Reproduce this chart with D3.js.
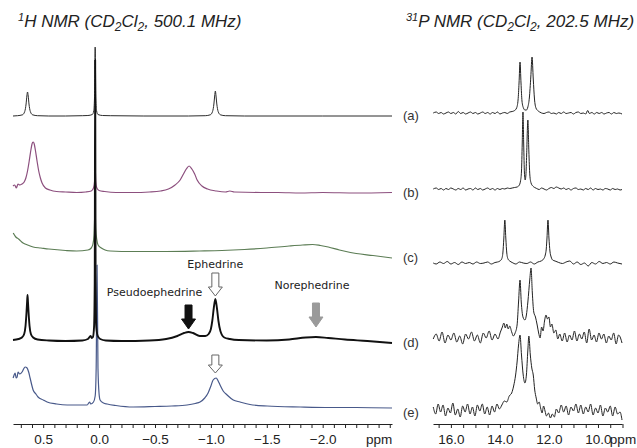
<!DOCTYPE html>
<html>
<head>
<meta charset="utf-8">
<script src="https://cdn.jsdelivr.net/npm/d3@7"></script>
<style>
    html, body { margin: 0; padding: 0; background: #fff; }
    svg { display: block; }
</style>
</head>
<body>
<div id="chart-nmr"></div>
<script>
// ---- data: [ppm, intensity] (intensity in arbitrary units above each trace's baseline)
var traceLabels = ["(a)", "(b)", "(c)", "(d)", "(e)"];
var hTickLabels = [0.5, 0.0, -0.5, -1.0, -1.5, -2.0];
var pTickLabels = [16.0, 14.0, 12.0, 10.0];

var h1_a = [[0.77,0],[0.73,0.3],[0.685,1.2],[0.665,4.5],[0.653,12],[0.646,20],[0.64,24],[0.634,20],[0.627,12],[0.615,4.5],[0.595,1.2],[0.55,0.3],[0.45,0],[0.3,0],[0.15,0.3],[0.1,0.5],[0.06,1.5],[0.048,5],[0.041,18],[0.035,69],[0.029,18],[0.022,5],[0.01,1.5],[-0.03,0.5],[-0.1,0.3],[-0.4,0],[-0.8,0],[-0.95,0.3],[-0.995,1.2],[-1.015,4.5],[-1.027,12],[-1.034,20],[-1.04,25],[-1.046,20],[-1.053,12],[-1.065,4.5],[-1.085,1.2],[-1.13,0.3],[-1.3,0],[-2.0,0],[-2.62,0]];

var h1_b = [[0.77,7],[0.755,8],[0.74,5],[0.725,9],[0.71,8],[0.69,9],[0.67,11],[0.655,15],[0.64,22],[0.625,32],[0.61,43],[0.6,49],[0.59,51],[0.58,49],[0.57,43],[0.555,32],[0.54,22],[0.525,15],[0.51,10],[0.48,5],[0.44,3],[0.38,1.5],[0.3,1],[0.2,0.5],[0.12,1],[0.07,2],[0.05,5],[0.04,12],[0.035,26],[0.03,12],[0.02,5],[0.0,2.5],[-0.05,1.5],[-0.15,0.5],[-0.3,0.5],[-0.45,1],[-0.55,2],[-0.62,4],[-0.68,8],[-0.725,13],[-0.755,19],[-0.78,24],[-0.805,27],[-0.83,24],[-0.855,19],[-0.877,13],[-0.92,7],[-0.97,4],[-1.05,2],[-1.13,1],[-1.17,2],[-1.21,1],[-1.45,0.5],[-1.6,0.5],[-1.8,0],[-2.0,0.5],[-2.3,0],[-2.62,0.5]];

var h1_c = [[0.768,24],[0.745,20],[0.72,18],[0.68,14],[0.64,12],[0.59,10],[0.52,9],[0.45,8],[0.3,6.5],[0.2,6],[0.1,7],[0.07,9],[0.055,13],[0.045,22],[0.036,48],[0.03,28],[0.02,17],[0.009,12],[-0.02,9],[-0.054,7],[-0.1,6],[-0.3,5.5],[-0.6,5.5],[-0.9,6],[-1.1,6.5],[-1.3,7.5],[-1.5,9],[-1.7,11],[-1.82,12],[-1.91,12.5],[-1.98,11.5],[-2.05,10],[-2.15,7],[-2.3,3.5],[-2.45,1.5],[-2.62,-1]];

var h1_d = [[0.77,2],[0.72,3],[0.69,4.5],[0.67,8],[0.658,16],[0.649,30],[0.644,40],[0.64,47],[0.636,40],[0.631,30],[0.622,16],[0.61,8],[0.59,4.5],[0.55,2.5],[0.45,1.5],[0.3,1],[0.15,1.5],[0.1,3],[0.075,6],[0.066,4],[0.055,5],[0.045,15],[0.039,60],[0.035,282],[0.031,60],[0.025,15],[0.012,6],[-0.01,3],[-0.06,1.5],[-0.2,1],[-0.45,1.5],[-0.6,3],[-0.7,6],[-0.76,9],[-0.8,10],[-0.84,9],[-0.9,6],[-0.95,6],[-0.98,8],[-1.0,13],[-1.013,21.5],[-1.026,34],[-1.04,43],[-1.054,34],[-1.067,21.5],[-1.085,11],[-1.12,4.5],[-1.17,3],[-1.25,2],[-1.5,1.5],[-1.7,2.5],[-1.85,4.5],[-1.94,5],[-2.05,4],[-2.2,2.5],[-2.4,1],[-2.62,-1]];

var h1_e = [[0.769,30],[0.76,33],[0.751,35],[0.742,30],[0.733,31],[0.725,36],[0.71,34],[0.689,36],[0.675,39],[0.662,41],[0.644,40],[0.63,36],[0.617,30],[0.6,22],[0.59,18],[0.565,14],[0.546,11],[0.5,8],[0.465,6],[0.38,4],[0.286,3],[0.2,3],[0.107,3],[0.085,6],[0.075,4],[0.05,6],[0.035,12],[0.026,40],[0.018,143],[0.01,40],[0.0,14],[-0.009,8],[-0.04,5],[-0.072,4],[-0.15,2.5],[-0.304,1],[-0.5,1.5],[-0.65,2],[-0.787,3],[-0.86,4.5],[-0.903,6],[-0.945,10],[-0.975,15],[-1.0,22],[-1.02,28],[-1.047,30],[-1.065,27],[-1.082,23],[-1.11,17],[-1.145,13],[-1.2,8],[-1.261,6],[-1.35,3.5],[-1.503,2],[-1.8,1],[-2.066,0.5],[-2.3,0.5],[-2.62,0]];

var p31_a = [[16.72,0],[16.6,1],[16.5,-0.5],[16.4,0.5],[16.3,-1],[16.2,0],[16.1,1],[16.0,-0.5],[15.9,0.5],[15.8,-1],[15.7,1.5],[15.6,-0.5],[15.5,0.5],[15.4,-1],[15.3,0],[15.2,1],[15.1,-0.5],[15.0,0.5],[14.9,-1],[14.8,0],[14.7,1],[14.6,-0.5],[14.5,0.5],[14.4,-1],[14.3,0.5],[14.2,-0.5],[14.1,1],[14.0,-1],[13.9,0],[13.8,0.5],[13.7,-0.5],[13.6,1],[13.5,1.5],[13.4,2.5],[13.32,5],[13.26,13],[13.22,30],[13.18,51],[13.14,30],[13.1,12],[13.04,5],[12.98,3],[12.92,3],[12.86,6],[12.8,15],[12.74,36],[12.69,56],[12.64,34],[12.59,14],[12.53,5],[12.46,2.5],[12.38,1],[12.3,0],[12.2,-0.5],[12.1,0.5],[12.0,1],[11.9,-0.5],[11.8,0],[11.7,-1],[11.6,0.5],[11.5,-0.5],[11.4,1],[11.3,-0.5],[11.2,0],[11.1,0.5],[11.0,-1],[10.9,0.5],[10.8,1],[10.7,-0.5],[10.6,0],[10.5,-1],[10.42,2.5],[10.35,-0.5],[10.25,0.5],[10.15,-1],[10.05,0.5],[9.95,-0.5],[9.85,0.5],[9.75,-1],[9.65,0],[9.55,0.5],[9.45,-1],[9.35,0.5],[9.25,-0.5],[9.15,0],[9.02,-1]];

var p31_b = [[16.72,0],[16.6,1],[16.5,-0.5],[16.4,0.5],[16.3,-1],[16.2,0.5],[16.1,-0.5],[16.0,1],[15.9,0],[15.8,-1],[15.7,0.5],[15.6,-0.5],[15.5,1],[15.4,-1],[15.3,0],[15.2,0.5],[15.1,-1],[15.0,1],[14.9,-0.5],[14.8,0.5],[14.7,-1],[14.6,0],[14.5,1],[14.4,-0.5],[14.3,0.5],[14.2,-1],[14.1,0.5],[14.0,-0.5],[13.9,0.5],[13.8,0],[13.7,1],[13.6,0.5],[13.5,1],[13.4,1.5],[13.3,2],[13.22,3.5],[13.16,8],[13.12,18],[13.09,45],[13.06,77],[13.03,45],[13.0,16],[12.97,9],[12.94,14],[12.91,34],[12.86,69],[12.82,38],[12.78,14],[12.73,6],[12.66,3],[12.58,1.5],[12.5,0.5],[12.4,-0.5],[12.3,1],[12.2,0],[12.1,-1],[12.0,0.5],[11.9,1.5],[11.8,0.5],[11.7,2],[11.6,1],[11.5,0],[11.4,1],[11.3,-0.5],[11.2,0.5],[11.1,-1],[11.0,0.5],[10.9,1],[10.8,-0.5],[10.7,0],[10.6,-1],[10.5,0.5],[10.4,-0.5],[10.3,1],[10.2,-1],[10.1,0.5],[10.0,-0.5],[9.9,0],[9.8,-1],[9.7,0.5],[9.6,0],[9.5,-1],[9.4,0.5],[9.3,-0.5],[9.2,0],[9.1,-1],[9.02,-0.5]];

var p31_c = [[16.72,0],[16.6,-1],[16.45,1],[16.3,-0.5],[16.15,1.5],[16.0,-1],[15.85,0.5],[15.7,-1.5],[15.55,1],[15.4,-0.5],[15.25,0.5],[15.1,-1],[14.95,1],[14.8,-0.5],[14.65,0],[14.5,1],[14.35,-1],[14.2,0.5],[14.1,1],[14.0,2],[13.93,4],[13.88,10],[13.84,25],[13.8,43],[13.76,25],[13.72,10],[13.67,4],[13.6,2],[13.5,0.5],[13.35,-1],[13.2,1],[13.05,0],[12.9,-0.5],[12.75,1],[12.6,-1],[12.45,1],[12.32,2],[12.22,4],[12.15,8],[12.11,14],[12.08,25],[12.04,43],[12.0,25],[11.96,12],[11.91,6],[11.85,3],[11.75,2],[11.6,0.5],[11.45,-0.5],[11.3,1],[11.15,2],[11.0,-1],[10.85,1],[10.7,-1.5],[10.55,0],[10.4,-3],[10.25,0.5],[10.1,-1],[9.95,1.5],[9.8,-0.5],[9.65,0.5],[9.5,-1],[9.35,1],[9.2,0],[9.02,-1]];

var p31_d = [[16.72,-2],[16.6,3],[16.48,-4],[16.36,5],[16.24,-6],[16.12,2],[16.0,-3],[15.88,4],[15.76,-5],[15.64,1],[15.52,-7],[15.4,3],[15.28,-2],[15.16,5],[15.04,-4],[14.92,2],[14.8,-6],[14.68,4],[14.56,-1],[14.44,6],[14.32,-3],[14.2,3],[14.08,-2],[13.98,5],[13.9,10],[13.84,14],[13.78,9],[13.72,13],[13.66,8],[13.6,11],[13.52,5],[13.45,1],[13.38,4],[13.3,12],[13.24,35],[13.18,57],[13.13,35],[13.06,20],[12.98,17],[12.92,22],[12.86,35],[12.78,58],[12.73,69],[12.68,45],[12.62,25],[12.55,20],[12.48,12],[12.42,4],[12.36,-1],[12.3,10],[12.24,6],[12.18,16],[12.12,22],[12.06,18],[12.0,20],[11.94,10],[11.88,13],[11.8,4],[11.72,7],[11.64,-2],[11.56,3],[11.46,-4],[11.36,4],[11.26,-5],[11.16,2],[11.06,-3],[10.96,6],[10.86,-4],[10.76,3],[10.66,-2],[10.56,5],[10.46,-6],[10.36,8],[10.26,-3],[10.16,2],[10.06,-5],[9.96,4],[9.86,-2],[9.76,3],[9.66,-6],[9.56,1],[9.46,-3],[9.36,4],[9.26,-7],[9.16,2],[9.08,-1],[9.02,-6]];

var p31_e = [[16.72,3],[16.62,-4],[16.52,6],[16.42,-2],[16.32,5],[16.22,-6],[16.12,2],[16.02,-3],[15.92,7],[15.82,-5],[15.72,1],[15.62,-7],[15.52,4],[15.42,-2],[15.32,6],[15.22,-4],[15.12,3],[15.02,-6],[14.92,5],[14.82,-1],[14.72,6],[14.62,-4],[14.52,3],[14.42,-5],[14.32,4],[14.22,-2],[14.12,6],[14.02,1],[13.92,5],[13.82,9],[13.72,8],[13.62,14],[13.52,17],[13.44,24],[13.36,35],[13.3,48],[13.24,65],[13.18,75],[13.12,55],[13.05,35],[12.98,27],[12.92,35],[12.86,60],[12.82,74],[12.76,55],[12.7,42],[12.64,35],[12.58,20],[12.52,12],[12.46,6],[12.4,8],[12.34,2],[12.28,-3],[12.22,4],[12.16,-1],[12.1,-6],[12.02,-3],[11.94,-8],[11.86,-4],[11.78,-7],[11.7,1],[11.6,-3],[11.5,5],[11.4,-2],[11.3,4],[11.2,-5],[11.1,3],[11.0,-1],[10.9,6],[10.8,-3],[10.7,5],[10.6,-4],[10.5,3],[10.4,-2],[10.3,6],[10.2,-5],[10.1,2],[10.0,-3],[9.9,5],[9.8,-6],[9.7,2],[9.6,-2],[9.5,4],[9.4,-6],[9.3,3],[9.2,-4],[9.1,-2],[9.02,-10]];

// peak markers in the 1H panel (ppm of each arrow)
var arrowPpm = [-1.04, -0.80, -1.94, -1.04];
var arrowNames = ["Ephedrine", "Pseudoephedrine", "Norephedrine", ""];

var NmrFigure = (function () {
    "use strict";

    var width = 637;
    var height = 448;
    var axisY = 424;

    var svg = d3
        .select("#chart-nmr")
        .append("svg")
        .attr("width", width)
        .attr("height", height)
        .attr("viewBox", "0 0 " + width + " " + height);

    var xH = d3.scaleLinear().domain([0.77, -2.62]).range([13, 392]);
    var xP = d3.scaleLinear().domain([16.73, 9.02]).range([433, 622]);
    var yI = d3.scaleLinear().domain([0, 100]).range([0, -100]);

    // stacking offsets of the traces (layout)
    var hBase = [116, 193, 257, 342, 408];
    var pBase = [113, 189, 263, 337, 410];
    var hColors = ["#2b2b2b", "#8c4f7e", "#5c7d55", "#111111", "#48598a"];
    var hWidths = [1, 1.2, 1.2, 1.9, 1.2];

    var drawTitle = function (x, lead, mhz) {
        var t = svg.append("text")
            .attr("x", x)
            .attr("y", 27)
            .style("font-family", "'Liberation Sans', Arial, sans-serif")
            .style("font-style", "italic")
            .style("font-size", "17px")
            .style("fill", "#222");
        t.append("tspan").attr("dy", -6).style("font-size", "11px").text(lead[0]);
        t.append("tspan").attr("dy", 6).text(lead[1] + " NMR (CD");
        t.append("tspan").attr("dy", 4).style("font-size", "12px").text("2");
        t.append("tspan").attr("dy", -4).text("Cl");
        t.append("tspan").attr("dy", 4).style("font-size", "12px").text("2");
        t.append("tspan").attr("dy", -4).text(", " + mhz + " MHz)");
    };

    var drawTraces = function (list, x, base, colors, widths) {
        var line = d3.line()
            .x(function (d) { return x(d[0]); })
            .y(function (d) { return yI(d[1]); })
            .curve(d3.curveMonotoneX);

        svg.append("g")
            .selectAll("path")
            .data(list)
            .enter()
            .append("path")
            .attr("transform", function (d, i) { return "translate(0," + base[i] + ")"; })
            .attr("d", line)
            .attr("fill", "none")
            .attr("stroke", function (d, i) { return colors[i]; })
            .attr("stroke-width", function (d, i) { return widths[i]; })
            .attr("stroke-linejoin", "round");
    };

    var drawAxis = function (x, ticks, labels, ppmAt) {
        var fmt = d3.format(".1f");
        var axis = d3.axisBottom(x)
            .tickValues(ticks)
            .tickSize(4)
            .tickSizeOuter(0)
            .tickPadding(6)
            .tickFormat(function (d) {
                if (Math.abs(d - ppmAt) < 1e-6) return "ppm";
                var hit = labels.some(function (l) { return Math.abs(l - d) < 1e-6; });
                return hit ? fmt(d) : "";
            });

        var g = svg.append("g")
            .attr("transform", "translate(0," + axisY + ")")
            .call(axis);
        g.select(".domain").attr("stroke", "#222");
        g.selectAll(".tick line").attr("stroke", "#222");
        g.selectAll("text")
            .style("font-family", "'Liberation Sans', Arial, sans-serif")
            .style("font-size", "13.5px")
            .style("fill", "#222");
    };

    var arrowPath = function (cx, top, headStart, tip, shaftW, headW) {
        var s = shaftW / 2;
        var h = headW / 2;
        return "M" + (cx - s) + "," + top + "L" + (cx + s) + "," + top +
            "L" + (cx + s) + "," + headStart + "L" + (cx + h) + "," + headStart +
            "L" + cx + "," + tip + "L" + (cx - h) + "," + headStart +
            "L" + (cx - s) + "," + headStart + "Z";
    };

    drawTitle(18, ["1", "H"], "500.1");
    drawTitle(406, ["31", "P"], "202.5");

    drawTraces([h1_a, h1_b, h1_c, h1_e, h1_d], xH,
        [hBase[0], hBase[1], hBase[2], hBase[4], hBase[3]],
        [hColors[0], hColors[1], hColors[2], hColors[4], hColors[3]],
        [hWidths[0], hWidths[1], hWidths[2], hWidths[4], hWidths[3]]);
    drawTraces([p31_a, p31_b, p31_c, p31_d, p31_e], xP, pBase,
        ["#222", "#222", "#222", "#222", "#222"], [1, 1, 1, 1, 1]);

    // trace labels between the panels
    svg.append("g")
        .selectAll("text")
        .data(traceLabels)
        .enter()
        .append("text")
        .attr("x", 403)
        .attr("y", function (d, i) { return [120, 197, 262, 347, 417][i]; })
        .style("font-family", "'Liberation Sans', Arial, sans-serif")
        .style("font-size", "13px")
        .style("fill", "#333")
        .text(function (d) { return d; });

    drawAxis(xH, d3.range(7, -27, -1).map(function (v) { return v / 10; }), hTickLabels, -2.5);
    drawAxis(xP, d3.range(33, 17, -1).map(function (v) { return v / 2; }), pTickLabels, 9.0);

    // arrows: [top, headStart, tip, fill, stroke]
    var arrowStyle = [
        [273, 287, 296, "#fff", "#666"],
        [305, 319, 329, "#111", "#111"],
        [303, 317, 327, "#9a9a9a", "#9a9a9a"],
        [355, 365, 373, "#fff", "#666"]
    ];
    svg.append("g")
        .selectAll("path")
        .data(arrowPpm)
        .enter()
        .append("path")
        .attr("d", function (d, i) {
            var s = arrowStyle[i];
            return arrowPath(xH(d), s[0], s[1], s[2], 7, 14);
        })
        .attr("fill", function (d, i) { return arrowStyle[i][3]; })
        .attr("stroke", function (d, i) { return arrowStyle[i][4]; })
        .attr("stroke-width", 1);

    // compound names (offset from their arrow)
    var nameOffset = [[0, 268], [-34, 296], [-4, 289]];
    svg.append("g")
        .selectAll("text")
        .data(arrowNames.slice(0, 3))
        .enter()
        .append("text")
        .attr("x", function (d, i) { return xH(arrowPpm[i]) + nameOffset[i][0]; })
        .attr("y", function (d, i) { return nameOffset[i][1]; })
        .attr("text-anchor", "middle")
        .style("font-family", "'DejaVu Sans', Verdana, sans-serif")
        .style("font-size", "11px")
        .style("fill", "#222")
        .text(function (d) { return d; });

    return { svg: svg };
})();
</script>
</body>
</html>
